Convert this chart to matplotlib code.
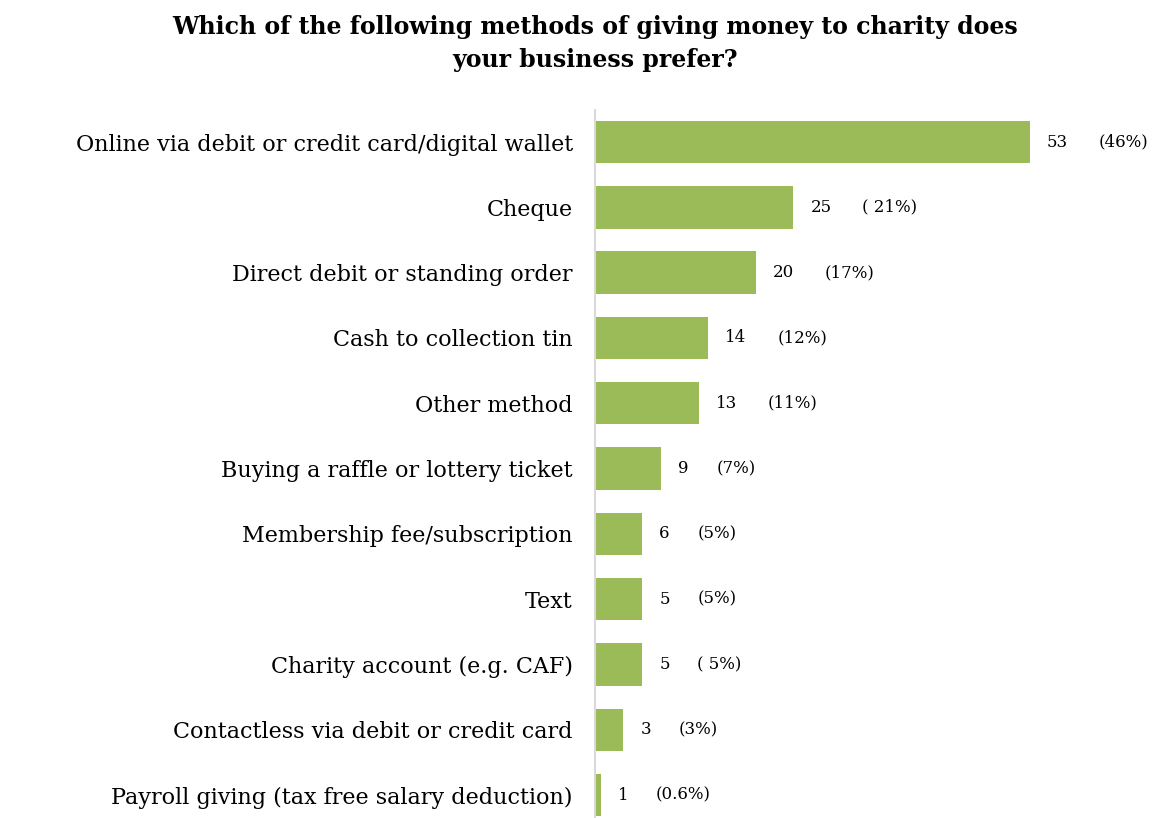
import matplotlib.pyplot as plt
import numpy as np

categories = [
    'Online via debit or credit card/digital wallet',
    'Cheque',
    'Direct debit or standing order',
    'Cash to collection tin',
    'Other method',
    'Buying a raffle or lottery ticket',
    'Membership fee/subscription',
    'Text',
    'Charity account (e.g. CAF)',
    'Contactless via debit or credit card',
    'Payroll giving (tax free salary deduction)',
]
counts = [53, 25, 20, 14, 13, 9, 6, 5, 5, 3, 1]
percents = [46, 21, 17, 12, 11, 7, 5, 5, 5, 3, 0.6]
pct_labels = ['(46%)', '( 21%)', '(17%)', '(12%)', '(11%)', '(7%)',
              '(5%)', '(5%)', '( 5%)', '(3%)', '(0.6%)']

plt.rcParams['font.family'] = ['DejaVu Serif']

fig = plt.figure(figsize=(11.6, 8.18), dpi=100)
ax = fig.add_axes([595 / 1160, 0.0, 565 / 1160, 1 - 110 / 818])

y_pos = np.arange(len(categories))
ax.barh(y_pos, percents, height=0.65, color='#9bbb59')

for y, p, n, lab in zip(y_pos, percents, counts, pct_labels):
    ax.annotate(f'{n}', (p, y), xytext=(17, 0), textcoords='offset pixels',
                va='center', ha='left', fontsize=12)
    ax.annotate(lab, (p, y), xytext=(17 + (52 if n >= 10 else 38), 0),
                textcoords='offset pixels', va='center', ha='left', fontsize=12)

ax.set_xlim(0, 59.8)
ax.set_ylim(10.35, -0.49)
ax.set_yticks(y_pos)
ax.set_yticklabels(categories, fontsize=16)
ax.tick_params(axis='y', length=0, pad=16)
ax.set_xticks([])
for s in ['top', 'right', 'bottom']:
    ax.spines[s].set_visible(False)
ax.spines['left'].set_color('#d9d9d9')
ax.spines['left'].set_linewidth(1.5)

fig.text(595 / 1160, 1 - 27 / 818,
         'Which of the following methods of giving money to charity does',
         ha='center', va='center', fontsize=17, fontweight='bold')
fig.text(595 / 1160, 1 - 60 / 818, 'your business prefer?',
         ha='center', va='center', fontsize=17, fontweight='bold')

fig.savefig('out.png', dpi=100)
